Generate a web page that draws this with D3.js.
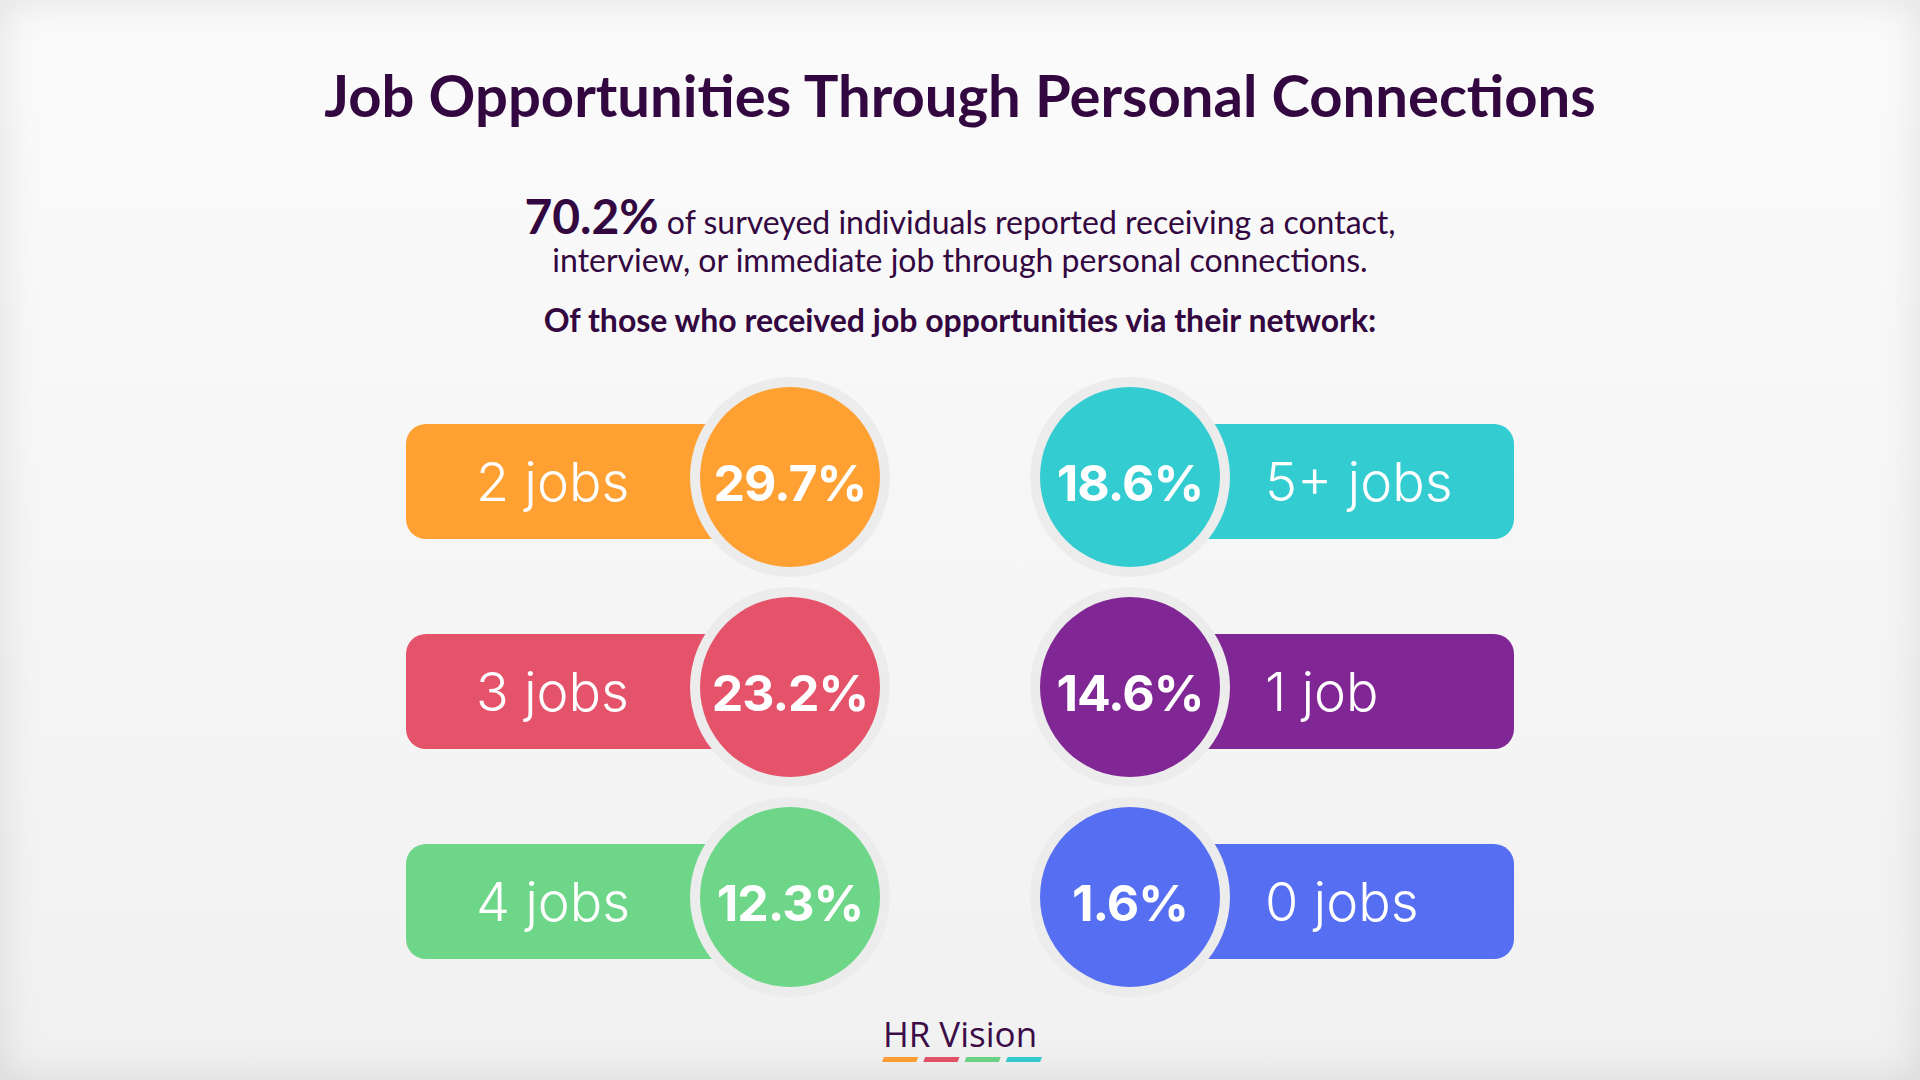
<!DOCTYPE html>
<html>
<head>
<meta charset="utf-8">
<script src="https://cdn.jsdelivr.net/npm/d3@7"></script>
<style>
  html, body { margin: 0; padding: 0; }
  body { width: 1920px; height: 1080px; overflow: hidden;
         background: linear-gradient(#fbfbfb, #f1f1f1); }
  .frame { position: absolute; left: 0; top: 0; width: 1920px; height: 1080px;
           box-shadow: inset 0 0 45px rgba(0,0,0,0.10); pointer-events: none; }
</style>
</head>
<body>
<div class="chart"></div>
<div class="frame"></div>
<script>
const categories = ['2 jobs', '3 jobs', '4 jobs', '5+ jobs', '1 job', '0 jobs'];
const shares = [29.7, 23.2, 12.3, 18.6, 14.6, 1.6];
const columns = ['left', 'left', 'left', 'right', 'right', 'right'];
const rows = [0, 1, 2, 0, 1, 2];
const colors = ['#FFA033', '#E5536A', '#6DD688', '#33CCD1', '#812695', '#566EF2'];
const headline = 70.2;
const brandColors = ['#FFA033', '#E5536A', '#6DD688', '#33CCD1'];

const width = 1920;
const height = 1080;
const ink = '#33073f';

const svg = d3.select('.chart')
    .append('svg')
    .attr('width', width)
    .attr('height', height)
    .style('position', 'absolute')
    .style('left', 0).style('top', 0);

//title
svg.append('text')
    .text('Job Opportunities Through Personal Connections')
    .attr('x', width / 2)
    .attr('y', 117)
    .attr('text-anchor', 'middle')
    .attr('font-family', 'Lato')
    .attr('font-weight', 700)
    .attr('font-size', 58)
    .attr('fill', ink);

//intro text with the big number
const intro = svg.append('text')
    .attr('x', width / 2)
    .attr('y', 234)
    .attr('text-anchor', 'middle')
    .attr('font-family', 'Lato')
    .attr('font-size', 32)
    .attr('fill', ink);
intro.append('tspan')
    .text(d3.format('.1f')(headline) + '%')
    .attr('font-weight', 700)
    .attr('font-size', 48);
intro.append('tspan')
    .text(' of surveyed individuals reported receiving a contact,');

svg.append('text')
    .text('interview, or immediate job through personal connections.')
    .attr('x', width / 2)
    .attr('y', 272)
    .attr('text-anchor', 'middle')
    .attr('font-family', 'Lato')
    .attr('font-size', 32)
    .attr('fill', ink);

svg.append('text')
    .text('Of those who received job opportunities via their network:')
    .attr('x', width / 2)
    .attr('y', 332)
    .attr('text-anchor', 'middle')
    .attr('font-family', 'Lato')
    .attr('font-weight', 700)
    .attr('font-size', 32)
    .attr('fill', ink);

//scales for placing the badges
const x = d3.scalePoint().domain(['left', 'right']).range([790, 1130]);
const y = d3.scalePoint().domain([0, 1, 2]).range([477, 897]);
const barLen = 385, barH = 115;

const rowsData = categories.map((c, i) => ({
    label: c, value: shares[i], col: columns[i], row: rows[i], color: colors[i]
}));

const g = svg.selectAll('g.badge')
    .data(rowsData)
    .enter()
    .append('g')
    .attr('class', 'badge')
    .attr('transform', d => `translate(${x(d.col)},${y(d.row)})`);

//the pill behind the circle (sits a few px lower than the disc)
g.append('rect')
    .attr('x', d => d.col === 'left' ? -barLen + 1 : -1)
    .attr('y', -53)
    .attr('width', barLen)
    .attr('height', barH)
    .attr('rx', 20)
    .attr('fill', d => d.color);

//grey ring then the coloured disc
g.append('circle')
    .attr('r', 100)
    .attr('fill', '#ececec');
g.append('circle')
    .attr('r', 90)
    .attr('fill', d => d.color);

g.append('text')
    .text(d => d3.format('.1f')(d.value) + '%')
    .attr('x', 0)
    .attr('y', 24)
    .attr('text-anchor', 'middle')
    .attr('font-family', 'Inter')
    .attr('font-weight', 700)
    .attr('font-size', 50)
    .attr('letter-spacing', -1)
    .attr('fill', '#fff');

g.append('text')
    .text(d => d.label)
    .attr('x', d => d.col === 'left' ? -314 : 135)
    .attr('y', 24)
    .attr('font-family', 'Inter')
    .attr('font-weight', 300)
    .attr('font-size', 54)
    .attr('fill', '#fff');

//footer logo
svg.append('text')
    .text('HR Vision')
    .attr('x', width / 2)
    .attr('y', 1047)
    .attr('text-anchor', 'middle')
    .attr('font-family', 'Open Sans')
    .attr('font-size', 35)
    .attr('fill', '#3b0c47');

const dash = d3.scaleBand().domain(d3.range(brandColors.length)).range([882, 1042]).paddingInner(0.12);
svg.selectAll('path.dash')
    .data(brandColors)
    .enter()
    .append('path')
    .attr('class', 'dash')
    .attr('d', (d, i) => {
        const x0 = dash(i), w = dash.bandwidth();
        return `M${x0 + 2},1057 L${x0 + w},1057 L${x0 + w - 2},1062 L${x0},1062 Z`;
    })
    .attr('fill', d => d);
</script>
</body>
</html>
